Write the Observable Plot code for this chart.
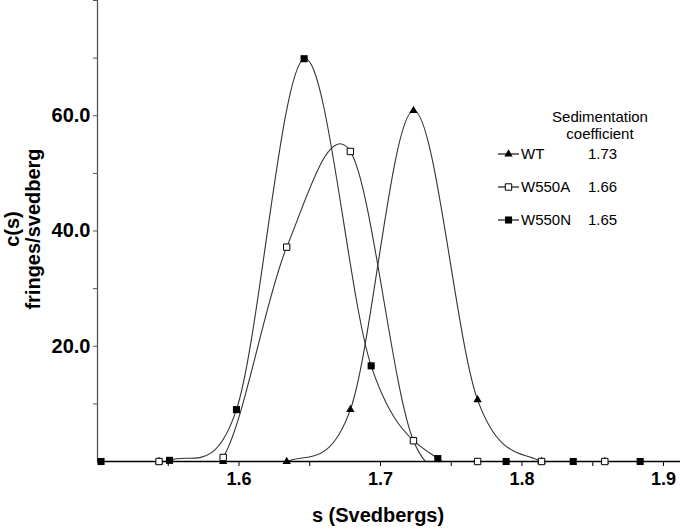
<!DOCTYPE html>
<html>
<head>
<meta charset="utf-8">
<script src="https://cdn.jsdelivr.net/npm/d3@7"></script>
<script src="https://cdn.jsdelivr.net/npm/@observablehq/plot@0.6"></script>
<style>
  html, body { margin: 0; padding: 0; background: #fff; }
  #wrap { position: relative; width: 680px; height: 532px; font-family: "Liberation Sans", Arial, sans-serif; }
  #legend { position: absolute; left: 0; top: 0; pointer-events: none; }
</style>
</head>
<body>
<div id="wrap"></div>
<script>
// Sedimentation-coefficient grids (Svedbergs)
const sGridA = [1.5435, 1.5888, 1.6337, 1.6787, 1.7233, 1.7686, 1.8138, 1.8585]; // WT and W550A
const sGridN = [1.5025, 1.5509, 1.5982, 1.6460, 1.6934, 1.7405, 1.7888, 1.8362, 1.8835]; // W550N
// c(s) values, fringes/svedberg
const wtC    = [0, 0, 0, 9.0, 60.9, 10.7, 0, 0];
const w550aC = [0, 0.7, 37.2, 53.8, 3.6, 0, 0, 0];
const w550nC = [0, 0.2, 9.0, 69.9, 16.6, 0.5, 0, 0, 0];

const seriesNames = ["WT", "W550A", "W550N"];
const sedCoeffs = ["1.73", "1.66", "1.65"];

const xTicks = [1.55, 1.6, 1.65, 1.7, 1.75, 1.8, 1.85, 1.9];
const yTicks = [10, 20, 30, 40, 50, 60, 70, 80];
const yLabelled = [20, 40, 60];

const wt = sGridA.map((s, i) => ({s, c: wtC[i]}));
const wa = sGridA.map((s, i) => ({s, c: w550aC[i]}));
const wn = sGridN.map((s, i) => ({s, c: w550nC[i]}));

const lineOpts = {x: "s", y: "c", curve: "cardinal", stroke: "#333", strokeWidth: 1.1, clip: true};

const chart = Plot.plot({
  width: 680,
  height: 532,
  marginLeft: 97,
  marginRight: 0,
  marginTop: 0,
  marginBottom: 71,
  style: {fontFamily: "'Liberation Sans', Arial, sans-serif", color: "#000", background: "#fff"},
  x: {domain: [1.5, 1.912]},
  y: {domain: [0, 80]},
  marks: [
    Plot.line(wt, lineOpts),
    Plot.line(wa, lineOpts),
    Plot.line(wn, lineOpts),
    Plot.ruleX([1.5], {stroke: "#555", strokeWidth: 1.3}),
    Plot.ruleY([0], {stroke: "#000", strokeWidth: 1.3}),
    Plot.axisX({
      ticks: xTicks, tickSize: 5, tickPadding: 6, label: null,
      tickFormat: d => Math.abs(d * 10 - Math.round(d * 10)) < 1e-6 ? d.toFixed(1) : "",
      fontSize: 18, fontWeight: "bold"
    }),
    Plot.axisY({
      ticks: yTicks, tickSize: 4, tickPadding: 3, label: null,
      tickFormat: d => yLabelled.includes(d) ? d.toFixed(1) : "",
      fontSize: 20, fontWeight: "bold", stroke: "#555"
    }),
    Plot.text(["s (Svedbergs)"], {text: d => d, frameAnchor: "bottom", dx: -11, dy: 60, fontSize: 20, fontWeight: "bold"}),
    Plot.text(["c(s)\nfringes/svedberg"], {text: d => d, frameAnchor: "left", textAnchor: "middle", lineAnchor: "middle", rotate: -90, dx: -75, dy: -2, lineHeight: 1.05, fontSize: 20, fontWeight: "bold"}),
    Plot.dot(wt, {x: "s", y: "c", symbol: "triangle", r: 3.1, fill: "#000", stroke: "none"}),
    Plot.dot(wa, {x: "s", y: "c", symbol: "square", r: 3.6, fill: "#fff", stroke: "#000", strokeWidth: 1}),
    Plot.dot(wn, {x: "s", y: "c", symbol: "square", r: 4, fill: "#000", stroke: "none"})
  ]
});

const wrap = document.getElementById("wrap");
wrap.appendChild(chart);

// Legend overlay
const leg = d3.select(wrap).append("svg")
  .attr("id", "legend").attr("width", 680).attr("height", 532)
  .style("font-family", "'Liberation Sans', Arial, sans-serif");

leg.append("text").attr("x", 600).attr("y", 122).attr("text-anchor", "middle")
  .attr("font-size", 15).text("Sedimentation");
leg.append("text").attr("x", 600).attr("y", 139).attr("text-anchor", "middle")
  .attr("font-size", 15).text("coefficient");

const rowY = [154, 187, 220];
const sym = [d3.symbolTriangle, d3.symbolSquare, d3.symbolSquare];
const symSize = [Math.PI * 3.1 * 3.1, Math.PI * 3.6 * 3.6, Math.PI * 16];
const symFill = ["#000", "#fff", "#000"];
const symStroke = ["none", "#000", "none"];
seriesNames.forEach((name, i) => {
  const g = leg.append("g");
  g.append("line").attr("x1", 498).attr("x2", 519).attr("y1", rowY[i]).attr("y2", rowY[i])
    .attr("stroke", "#000").attr("stroke-width", 1.1);
  g.append("path").attr("d", d3.symbol(sym[i], symSize[i])())
    .attr("transform", `translate(508.5,${rowY[i]})`)
    .attr("fill", symFill[i]).attr("stroke", symStroke[i]);
  g.append("text").attr("x", 521).attr("y", rowY[i]).attr("dy", "0.36em")
    .attr("font-size", 15).text(name);
  g.append("text").attr("x", 588).attr("y", rowY[i]).attr("dy", "0.36em")
    .attr("font-size", 15).text(sedCoeffs[i]);
});
</script>
</body>
</html>
